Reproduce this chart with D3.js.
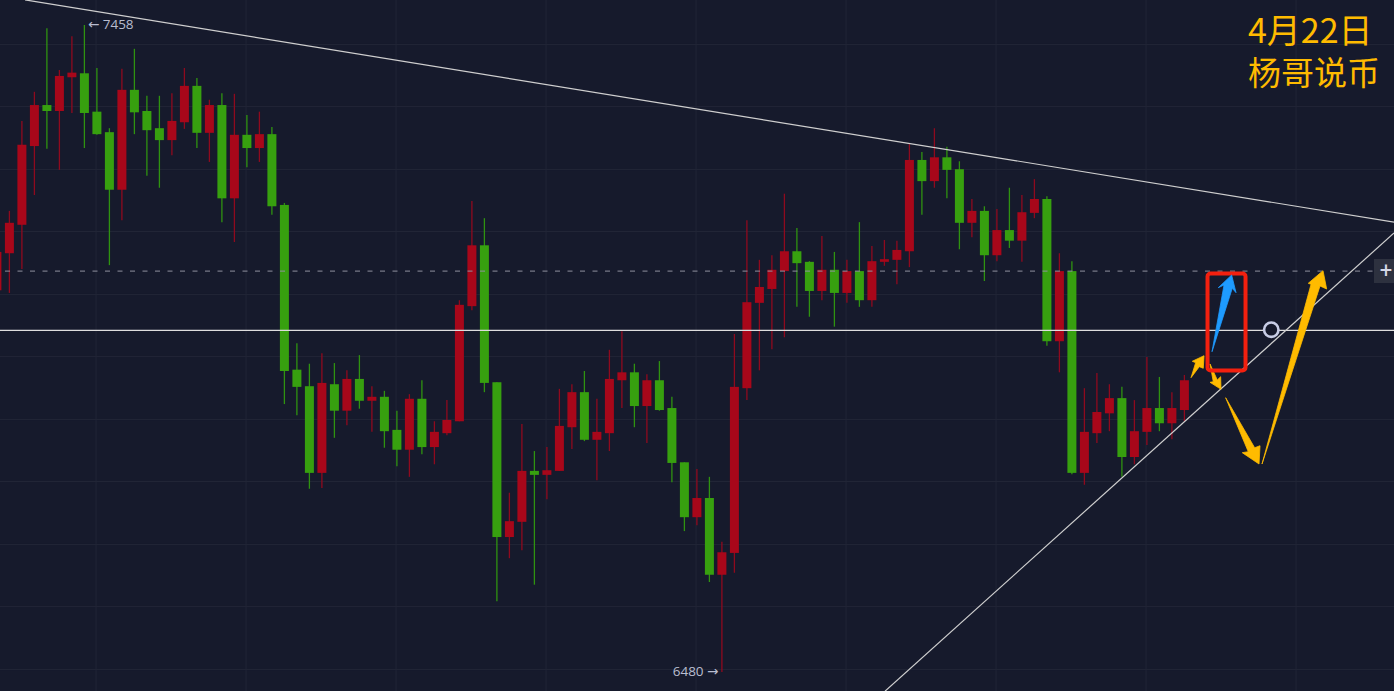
<!DOCTYPE html>
<html>
<head>
<meta charset="utf-8">
<title>4月22日 杨哥说币</title>
<script src="https://cdn.jsdelivr.net/npm/d3@7"></script>
<style>
    html, body { margin: 0; padding: 0; background: #161a2c; overflow: hidden; }
    svg { display: block; }
    .grid line { stroke: #212536; stroke-width: 1; }
    .grid path { display: none; }
</style>
</head>
<body>
<div id="chart"></div>
<script>
// bars run left to right, the first one is cut off by the left edge. red closes up, green closes down
var open = [7057,7113,7156,7275,7337,7328,7379,7385,7327,7296,7209,7360,7328,7302,7284,7311,7366,7295,7337,7196,7292,7272,7293,7186,6937,6912,6781,6915,6875,6923,6890,6896,6846,6816,6893,6820,6841,6859,7033,7125,6918,6684,6707,6784,6778,6784,6850,6903,6831,6841,6921,6933,6882,6921,6879,6797,6714,6743,6627,6660,6909,7038,7059,7086,7116,7100,7056,7088,7053,7086,7042,7100,7103,7116,7254,7222,7258,7240,7159,7177,7110,7148,7132,7174,7195,6980,7086,6781,6841,6871,6894,6805,6843,6879,6856,6876];
var close = [7115,7159,7277,7337,7328,7381,7386,7325,7293,7209,7360,7326,7299,7284,7313,7366,7295,7337,7196,7292,7272,7293,7184,6935,6911,6781,6917,6875,6923,6890,6896,6844,6816,6893,6820,6843,6861,7035,7125,6917,6684,6708,6784,6778,6785,6852,6903,6831,6843,6923,6933,6882,6921,6876,6796,6714,6743,6627,6661,6911,7039,7062,7088,7116,7098,7056,7088,7053,7086,7042,7101,7104,7118,7254,7222,7258,7239,7159,7177,7110,7148,7132,7175,7195,6980,7086,6781,6843,6873,6894,6805,6844,6879,6856,6879,6921];
var high = [7115,7177,7313,7357,7453,7390,7441,7458,7393,7302,7392,7422,7351,7351,7355,7393,7378,7345,7355,7354,7322,7327,7304,7189,6977,6946,6962,6947,6936,6959,6912,6905,6875,6900,6921,6859,6891,7042,7192,7166,6918,6751,6855,6814,6820,6908,6915,6935,6893,6967,6995,6946,6930,6950,6896,6797,6787,6775,6677,6991,7163,7103,7110,7203,7151,7101,7139,7115,7103,7160,7124,7133,7132,7278,7266,7302,7274,7252,7195,7184,7180,7212,7201,7225,7199,7113,7101,6909,6932,6915,6911,6891,6956,6926,6903,6929];
var low = [7045,7053,7089,7201,7271,7239,7325,7272,7292,7095,7163,7293,7230,7212,7261,7301,7272,7251,7160,7130,7243,7251,7171,6885,6868,6757,6758,6834,6853,6878,6843,6819,6791,6775,6809,6794,6838,6859,7027,6903,6587,6652,6664,6612,6741,6784,6817,6829,6770,6814,6879,6850,6826,6875,6767,6693,6702,6616,6480,6630,6891,6936,6968,6986,7032,7017,7042,7002,7038,7032,7032,7094,7066,7092,7171,7212,7196,7119,7137,7071,7101,7121,7100,7166,6973,6933,6779,6763,6826,6844,6775,6794,6823,6844,6832,6859];
var firstBar = -1;

// faint grid, in bar numbers and prices
var gridBars = [-5.11,6.89,18.89,30.89,42.89,54.89,66.89,78.89,90.89,102.89];
var gridPrices = [7429.3,7335.6,7240.3,7146.6,7051.4,6957.7,6862.4,6768.7,6673.5,6579.8,6484.5];

var solidLevel = 6996.5;
var dashedLevel = 7086;
var maxLabel = { bar: 6, price: 7458, arrow: '←', text: '7458' };
var minLabel = { bar: 57, price: 6480, arrow: '→', text: '6480' };

// trend lines, [bar, price]
var fallingLine = [[1.25,7496],[110.77,7160]];
var risingLine = [[70.05,6451],[110.77,7143.6]];

// drawn on annotations, [bar, price]
var blueArrow = [[96.21,6964.2],[97.17,7065],[96.71,7060.9],[97.78,7080.1],[98.13,7053.4],[97.83,7060]];
var smallUpArrow = [[94.53,6924.9],[94.90,6947.6],[94.63,6949.7],[95.57,6958.1],[95.51,6939.1],[95.19,6941.5]];
var smallDownArrow = [[96.05,6945.6],[96.31,6918.8],[96.05,6917.9],[96.93,6907.3],[96.90,6926.4],[96.63,6921.4]];
var bigDownArrow = [[97.30,6894.6],[99.11,6813],[98.63,6811.5],[99.97,6794.4],[100.05,6822],[99.62,6819]];
var bigUpArrow = [[100.21,6794.4],[104.13,7066],[103.91,7067.6],[105.09,7086.6],[105.38,7058.9],[104.85,7063.5]];
var redBox = { left: 95.85, right: 98.89, top: 7082.4, bottom: 6935.8 };
var circleMark = { bar: 100.95, price: 6997.4 };

var titleLines = ['4月22日', '杨哥说币'];
var titleSizes = [34, 33];

var width = 1394,
    height = 691,
    bodyWidth = 9,
    greenBody = '#37a00f',
    redBody = '#a8071a',
    greenWick = '#2f9310',
    redWick = '#8f0a1e',
    yellow = '#ffbb00',
    blue = '#1e9bff',
    labelColour = '#b9bdd0';

var x = d3.scaleLinear().domain([0, 111]).range([9.4, 1396.9]);
var y = d3.scaleLinear().domain([6480, 7458]).range([672, 25]);

var svg = d3.select('#chart').append('svg')
    .attr('width', width)
    .attr('height', height);

svg.append('rect').attr('width', width).attr('height', height).attr('fill', '#161a2c');

/****************************************************************
 *   grid
 ****************************************************************/
svg.append('g').attr('class', 'grid')
    .attr('transform', 'translate(0,' + height + ')')
    .call(d3.axisBottom(x).tickValues(gridBars).tickSize(-height).tickFormat(''));

svg.append('g').attr('class', 'grid')
    .call(d3.axisRight(y).tickValues(gridPrices).tickSize(width).tickFormat(''));

/****************************************************************
 *   candles
 ****************************************************************/
var candles = open.map(function (d, i) {
    return { bar: firstBar + i, open: d, close: close[i], high: high[i], low: low[i] };
});

var candle = svg.append('g').selectAll('g')
    .data(candles)
    .enter()
    .append('g');

candle.append('line')
    .attr('x1', function (d) { return x(d.bar); })
    .attr('x2', function (d) { return x(d.bar); })
    .attr('y1', function (d) { return y(d.high); })
    .attr('y2', function (d) { return y(d.low); })
    .attr('stroke', function (d) { return d.close >= d.open ? redWick : greenWick; })
    .attr('stroke-width', 1.3);

candle.append('rect')
    .attr('x', function (d) { return x(d.bar) - bodyWidth / 2; })
    .attr('width', bodyWidth)
    .attr('y', function (d) { return y(Math.max(d.open, d.close)); })
    .attr('height', function (d) { return Math.max(1, Math.abs(y(d.open) - y(d.close))); })
    .attr('fill', function (d) { return d.close >= d.open ? redBody : greenBody; });

/****************************************************************
 *   levels and trend lines
 ****************************************************************/
svg.append('line')
    .attr('x1', 5).attr('x2', width)
    .attr('y1', y(dashedLevel)).attr('y2', y(dashedLevel))
    .attr('stroke', '#8f919e')
    .attr('stroke-width', 1)
    .attr('stroke-dasharray', '5,7.5');

svg.append('line')
    .attr('x1', 0).attr('x2', width)
    .attr('y1', y(solidLevel)).attr('y2', y(solidLevel))
    .attr('stroke', '#dedede')
    .attr('stroke-width', 1.2);

var line = d3.line()
    .x(function (d) { return x(d[0]); })
    .y(function (d) { return y(d[1]); });

[fallingLine, risingLine].forEach(function (points) {
    svg.append('path')
        .attr('d', line(points))
        .attr('fill', 'none')
        .attr('stroke', '#cfcfcf')
        .attr('stroke-width', 1.2);
});

/****************************************************************
 *   annotations
 ****************************************************************/
var polygon = function (points, colour) {
    svg.append('path')
        .attr('d', line(points) + 'Z')
        .attr('fill', colour)
        .attr('stroke', colour)
        .attr('stroke-width', 0.8)
        .attr('stroke-linejoin', 'round');
};

polygon(smallDownArrow, yellow);
polygon(smallUpArrow, yellow);
polygon(bigDownArrow, yellow);
polygon(bigUpArrow, yellow);

svg.append('rect')
    .attr('x', x(redBox.left))
    .attr('width', x(redBox.right) - x(redBox.left))
    .attr('y', y(redBox.top))
    .attr('height', y(redBox.bottom) - y(redBox.top))
    .attr('rx', 3)
    .attr('fill', 'none')
    .attr('stroke', '#f3200f')
    .attr('stroke-width', 4);

polygon(blueArrow, blue);

svg.append('circle')
    .attr('cx', x(circleMark.bar))
    .attr('cy', y(circleMark.price))
    .attr('r', 7.2)
    .attr('fill', '#161a2c')
    .attr('stroke', '#c8cde6')
    .attr('stroke-width', 2.6);

/****************************************************************
 *   price button on the right edge
 ****************************************************************/
svg.append('rect')
    .attr('x', 1374).attr('y', 259)
    .attr('width', 20).attr('height', 24)
    .attr('fill', '#2d313f');

svg.append('text')
    .attr('x', 1386).attr('y', 278)
    .attr('text-anchor', 'middle')
    .attr('font-family', 'Roboto, sans-serif')
    .attr('font-size', 22)
    .attr('fill', '#d5d8e6')
    .text('+');

/****************************************************************
 *   high and low labels, title
 ****************************************************************/
var addLabel = function (label, labelX, anchor, arrowFirst) {
    var text = svg.append('text')
        .attr('x', labelX)
        .attr('y', y(label.price) + 4)
        .attr('text-anchor', anchor)
        .attr('font-family', '"Open Sans", sans-serif')
        .attr('font-size', 13.5)
        .attr('fill', labelColour);
    var parts = arrowFirst ? [label.arrow, ' ' + label.text] : [label.text + ' ', label.arrow];
    parts.forEach(function (part) {
        text.append('tspan')
            .attr('font-family', part === label.arrow ? '"DejaVu Sans", sans-serif' : null)
            .attr('font-size', part === label.arrow ? 13.5 : null)
            .attr('xml:space', 'preserve')
            .text(part);
    });
};

addLabel(maxLabel, x(maxLabel.bar) + 3.5, 'start', true);
addLabel(minLabel, x(minLabel.bar) - 3.5, 'end', false);

svg.selectAll('text.title')
    .data(titleLines)
    .enter()
    .append('text')
    .attr('class', 'title')
    .attr('x', 1248)
    .attr('y', function (d, i) { return 42.5 + i * 42.5; })
    .attr('font-family', '"Noto Sans CJK SC", sans-serif')
    .attr('font-size', function (d, i) { return titleSizes[i]; })
    .attr('fill', yellow)
    .text(function (d) { return d; });
</script>
</body>
</html>
